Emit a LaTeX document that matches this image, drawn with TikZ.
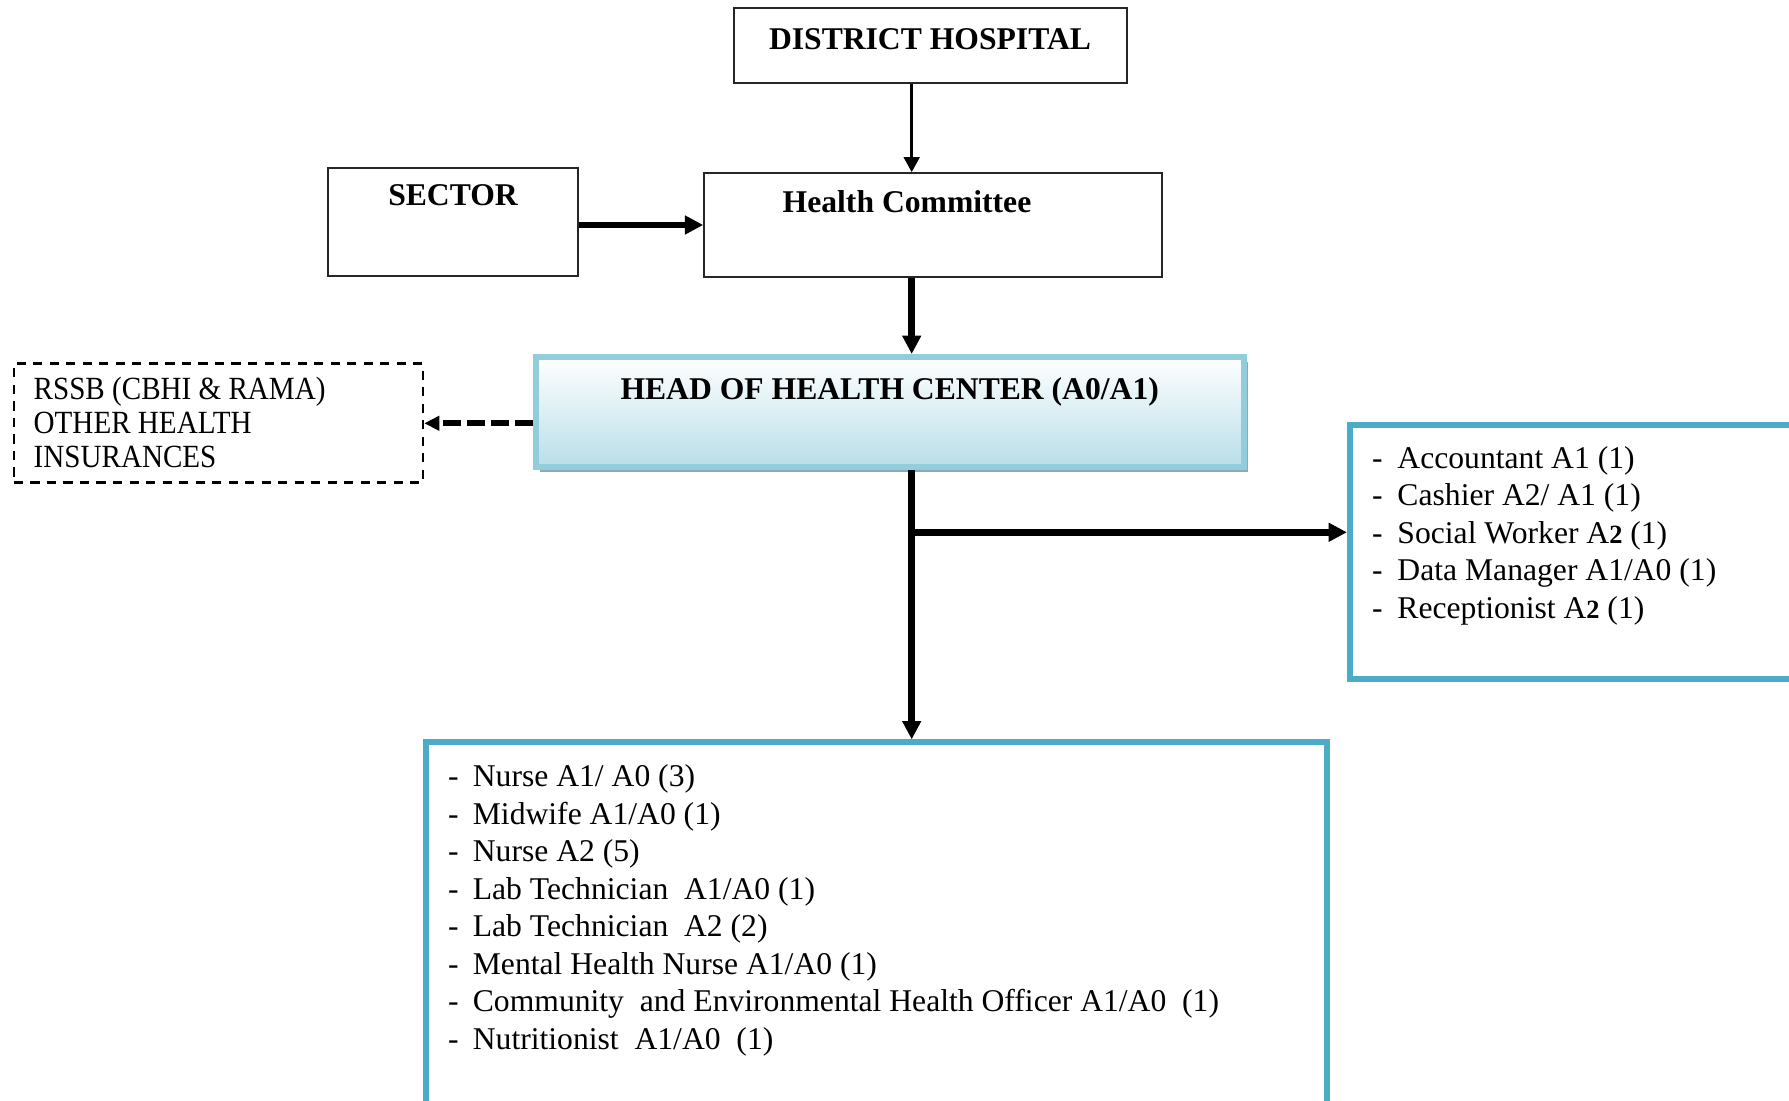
\documentclass[tikz,border=0pt]{standalone}
\usepackage{fontspec}
\setmainfont{Liberation Serif}
\newfontfamily\narrowserif[FakeStretch=0.9]{Liberation Serif}
\usetikzlibrary{arrows.meta,calc,shadows}
\definecolor{headline}{HTML}{92CDDC}
\definecolor{headfill}{HTML}{B9DEE8}
\definecolor{headshadow}{HTML}{8FA8B2}
\definecolor{listline}{HTML}{4BACC6}
\newcommand{\Atwo}{A{\bfseries\fontsize{7.5}{8}\selectfont 2}}

\begin{document}
\begin{tikzpicture}[
  plainbox/.style={draw=black!85, line width=0.6pt, rectangle},
  headbox/.style={draw=headline, line width=1.7pt, top color=white, bottom color=headfill,
    drop shadow={shadow xshift=0.045cm, shadow yshift=-0.05cm, fill=headshadow, opacity=1}},
  dashbox/.style={draw, line width=0.75pt, dash pattern=on 2.6pt off 2.1pt},
  listbox/.style={draw=listline, line width=1.7pt},
  title/.style={font=\bfseries\fontsize{9}{10.7}\selectfont, inner sep=0pt, anchor=base},
  entry/.style={font=\fontsize{9}{10.7}\selectfont, inner sep=0pt, anchor=base west},
  thinarrow/.style={line width=0.95pt, -{Triangle[length=4.3pt,width=4.4pt]}},
  thickarrow/.style={line width=1.85pt, -{Triangle[length=5.2pt,width=5.1pt]}},
  dasharrow/.style={line width=1.7pt, dash pattern=on 5pt off 1.8pt, -{Triangle[length=4.3pt,width=4pt]}}
]
\useasboundingbox (0,0) rectangle (17.89,-11.01);
\clip (0,0) rectangle (17.89,-11.01);
% boxes
\node[plainbox, minimum width=3.924cm, minimum height=0.747cm] (dh) at (9.305,-0.457) {};
\node[plainbox, minimum width=2.506cm, minimum height=1.08cm] (sector) at (4.53,-2.223) {};
\node[plainbox, minimum width=4.58cm, minimum height=1.034cm] (hc) at (9.333,-2.25) {};
\node[headbox, minimum width=7.08cm, minimum height=1.10cm] (head) at (8.897,-4.12) {};
\node[dashbox, minimum width=4.09cm, minimum height=1.19cm] (rssb) at (2.184,-4.233) {};
\node[listbox, minimum width=4.80cm, minimum height=2.54cm] (staff) at (15.899,-5.517) {};
\node[listbox, minimum width=9.016cm, minimum height=3.977cm] (clin) at (8.765,-9.412) {};
% titles
\node[title] (dh-t) at (9.30,-0.495) {DISTRICT HOSPITAL};
\node[title] (sector-t) at (4.53,-2.055) {SECTOR};
\node[title] (hc-t) at (9.07,-2.123) {Health Committee};
\node[title] (head-t) at (8.897,-4.00) {HEAD OF HEALTH CENTER (A0/A1)};
% insurers
\foreach \t [count=\i] in {RSSB (CBHI \& RAMA), OTHER HEALTH, INSURANCES}
  \node[entry, font=\narrowserif\fontsize{9.2}{11}\selectfont] (rssb-\i) at (0.33,{-4.00-0.34*(\i-1)}) {\t};
% administration staff
\foreach \t [count=\i] in {Accountant A1 (1), Cashier A2/ A1 (1), Social Worker \Atwo{} (1),
    Data Manager A1/A0 (1), Receptionist \Atwo{} (1)}
  \node[entry] (staff-\i) at (13.715,{-4.685-0.374*(\i-1)}) {\makebox[0.253cm][l]{-}\t};
% clinical staff
\foreach \t [count=\i] in {Nurse A1/ A0 (3), Midwife A1/A0 (1), Nurse A2 (5),
    Lab Technician\ \ A1/A0 (1), Lab Technician\ \ A2 (2), Mental Health Nurse A1/A0 (1),
    Community\ \ and Environmental Health Officer A1/A0\ \ (1), Nutritionist\ \ A1/A0\ \ (1)}
  \node[entry] (clin-\i) at (4.475,{-7.87-0.375*(\i-1)}) {\makebox[0.247cm][l]{-}\t};
% connectors
\coordinate (spine) at (9.117,0);
\coordinate (fork) at (9.117,-5.323);
\draw[thinarrow] (dh.south -| spine) -- (hc.north -| spine);
\draw[thickarrow] (sector.east |- hc) -- (hc.west);
\draw[thickarrow] (hc.south -| spine) -- (head.north -| spine);
\draw[dasharrow] (head.west |- rssb) -- (rssb.east);
\draw[thickarrow] (head.south -| spine) -- (clin.north -| spine);
\draw[thickarrow] (fork) -- (fork -| staff.west);
\end{tikzpicture}
\end{document}
